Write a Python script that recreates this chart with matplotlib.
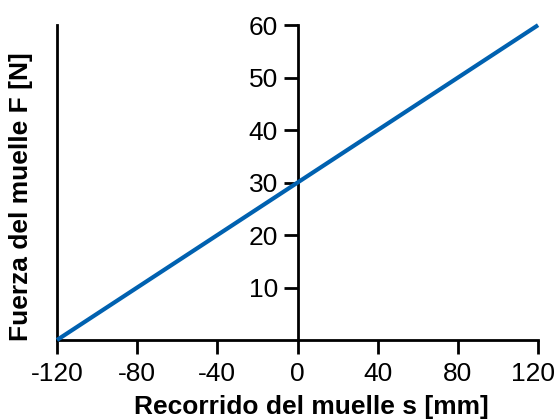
import matplotlib
matplotlib.use('Agg')
import matplotlib.pyplot as plt
import matplotlib.transforms as mtransforms
import numpy as np

plt.rcParams['font.family'] = ['Liberation Sans', 'DejaVu Sans']

# Datos: recorrido del muelle [mm] y fuerza [N]
recorrido = [-120, 120]
fuerza = [0, 60]

xticks = [-120, -80, -40, 0, 40, 80, 120]
yticks = [10, 20, 30, 40, 50, 60]

fig = plt.figure(figsize=(5.57, 4.19), dpi=100)
ax = fig.add_axes([0.1023, 0.1885, 0.8637, 0.7515])

ax.plot(recorrido, fuerza, color='#0061b0', linewidth=3, solid_capstyle='butt',
        clip_on=False, zorder=3)

ax.set_xlim(-120, 120)
ax.set_ylim(0, 60)

# eje y en x=0, marco izquierdo en x=-120
ax.spines['left'].set_position(('data', 0))
ax.spines['right'].set_position(('data', -120))
ax.spines['top'].set_visible(False)
for s in ['left', 'right', 'bottom']:
    ax.spines[s].set_linewidth(2)

ax.yaxis.set_ticks_position('left')
ax.xaxis.set_ticks_position('bottom')
ax.set_xticks(xticks)
ax.set_yticks(yticks)
ax.set_xticklabels([str(v) for v in xticks])
ax.tick_params(axis='both', direction='out', length=10, width=2,
               labelsize=19)
ax.tick_params(axis='x', pad=6)
ax.tick_params(axis='y', pad=4)

# la ultima etiqueta se corre un poco a la izquierda para que quepa
last = ax.get_xticklabels()[-1]
last.set_transform(last.get_transform() +
                   mtransforms.ScaledTranslation(-0.05, 0, fig.dpi_scale_trans))

fig.text(311.5 / 557, 1 - 414 / 419, 'Recorrido del muelle s [mm]', fontsize=19,
         fontweight='bold', ha='center', va='baseline')
fig.text(33 / 557, 1 - 197 / 419, 'Fuerza del muelle F [N]', rotation=90,
         fontsize=19, fontweight='bold', ha='right', va='center')

fig.savefig('out.png', dpi=100)
